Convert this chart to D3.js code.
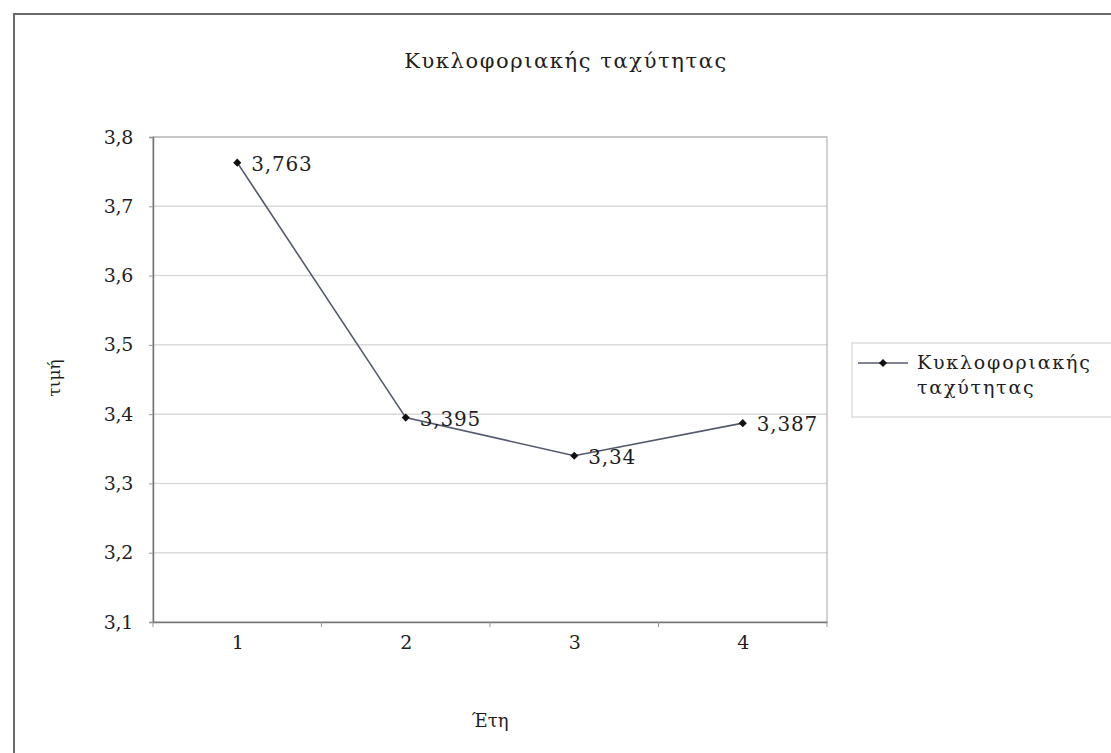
<!DOCTYPE html>
<html>
<head>
<meta charset="utf-8">
<script src="https://cdn.jsdelivr.net/npm/d3@7"></script>
<style>
  body { margin: 0; background: #fff; }
</style>
</head>
<body>
<div id="vizArea"></div>
<script>
var w = 1111
var h = 753
var serif = "'DejaVu Serif', 'Liberation Serif', serif"

// DATA ********************************
var years = [1, 2, 3, 4]
var speedValues = [3.763, 3.395, 3.34, 3.387]
var yTicks = [3.1, 3.2, 3.3, 3.4, 3.5, 3.6, 3.7, 3.8]
var chartTitle = "Κυκλοφοριακής ταχύτητας"
var seriesName = ["Κυκλοφοριακής", "ταχύτητας"]
var xTitle = "Έτη"
var yTitle = "τιμή"

// greek style numbers use comma as decimal mark
var gr = d3.formatLocale({decimal: ",", thousands: ".", grouping: [3], currency: ["", "€"]})

var svg = d3.select("#vizArea").append("svg")
    .attr("width", w)
    .attr("height", h)
    .style("font-family", serif)

// small helper so every label gets the same scanned-Times look
function txt(sel, size, spacing) {
    return sel.style("font-family", serif)
        .style("font-size", size + "px")
        .style("letter-spacing", spacing + "px")
        .attr("fill", "#1e1e1e")
}

// outer chart frame (runs off the page on right & bottom)
svg.append("rect")
    .attr("x", 14).attr("y", 14)
    .attr("width", w).attr("height", h)
    .attr("fill", "#fff")
    .attr("stroke", "#6a6a6a")
    .attr("stroke-width", 2)

var plot = {left: 153, top: 137, right: 827, bottom: 622}

var x = d3.scalePoint()
    .domain(years)
    .range([plot.left, plot.right])
    .padding(0.5)

var y = d3.scaleLinear()
    .domain([3.1, 3.8])
    .range([plot.bottom, plot.top])

// gridlines
svg.append("g")
    .selectAll("line")
    .data(yTicks.slice(1))
    .enter().append("line")
    .attr("x1", plot.left).attr("x2", plot.right)
    .attr("y1", function(d){ return y(d) })
    .attr("y2", function(d){ return y(d) })
    .attr("stroke", "#dadada")
    .attr("stroke-width", 1.5)

// plot area border
svg.append("rect")
    .attr("x", plot.left).attr("y", plot.top)
    .attr("width", plot.right - plot.left)
    .attr("height", plot.bottom - plot.top)
    .attr("fill", "none")
    .attr("stroke", "#b4b4b4")
    .attr("stroke-width", 1.2)

// y axis
var yAxis = d3.axisLeft(y)
    .tickValues(yTicks)
    .tickSize(4)
    .tickPadding(16)
    .tickFormat(gr.format(".1f"))
var yg = svg.append("g")
    .attr("transform", "translate(" + plot.left + ",0)")
    .call(yAxis)
yg.select(".domain").attr("stroke", "#777").attr("stroke-width", 1.5)
yg.selectAll(".tick line").attr("stroke", "#999")
txt(yg.selectAll("text"), 19, -0.3)

// x axis: ticks sit between categories
var xAxis = d3.axisBottom(x)
    .tickSize(0)
    .tickPadding(14)
var xg = svg.append("g")
    .attr("transform", "translate(0," + plot.bottom + ")")
    .call(xAxis)
xg.select(".domain").attr("stroke", "#777").attr("stroke-width", 1.5)
txt(xg.selectAll("text"), 19, 0)

var step = x.step()
xg.selectAll(".sep")
    .data(d3.range(years.length + 1))
    .enter().append("line")
    .attr("x1", function(i){ return plot.left + i * step })
    .attr("x2", function(i){ return plot.left + i * step })
    .attr("y1", 0).attr("y2", 5)
    .attr("stroke", "#999")

// series line
var pts = years.map(function(d, i){ return {year: d, value: speedValues[i]} })
var line = d3.line()
    .x(function(d){ return x(d.year) })
    .y(function(d){ return y(d.value) })

svg.append("path")
    .datum(pts)
    .attr("d", line)
    .attr("fill", "none")
    .attr("stroke", "#545a6e")
    .attr("stroke-width", 1.6)

// diamond markers
var diamond = d3.symbol().type(d3.symbolDiamond2).size(42)
svg.selectAll(".pt")
    .data(pts)
    .enter().append("path")
    .attr("d", diamond)
    .attr("transform", function(d){ return "translate(" + x(d.year) + "," + y(d.value) + ")" })
    .attr("fill", "#111")

// data labels
txt(svg.selectAll(".lbl")
    .data(pts)
    .enter().append("text")
    .attr("x", function(d){ return x(d.year) + 14 })
    .attr("y", function(d){ return y(d.value) + 8 })
    .text(function(d){ return gr.format("")(d.value) }), 20, 0.8)

// titles
txt(svg.append("text")
    .attr("x", 566).attr("y", 68)
    .attr("text-anchor", "middle")
    .text(chartTitle), 21, 1.6)

txt(svg.append("text")
    .attr("x", 490).attr("y", 727)
    .attr("text-anchor", "middle")
    .text(xTitle), 18, 0)

txt(svg.append("text")
    .attr("transform", "translate(60,378) rotate(-90)")
    .attr("text-anchor", "middle")
    .text(yTitle), 17, 0)

// legend
var lg = svg.append("g").attr("transform", "translate(852,343)")
lg.append("rect")
    .attr("width", 270).attr("height", 74)
    .attr("fill", "#fff")
    .attr("stroke", "#cccccc")
lg.append("line")
    .attr("x1", 6).attr("x2", 56)
    .attr("y1", 20).attr("y2", 20)
    .attr("stroke", "#545a6e").attr("stroke-width", 1.6)
lg.append("path")
    .attr("d", diamond)
    .attr("transform", "translate(31,20)")
    .attr("fill", "#111")
txt(lg.selectAll(".lt")
    .data(seriesName)
    .enter().append("text")
    .attr("x", 65)
    .attr("y", function(d, i){ return 26 + i * 25 })
    .text(function(d){ return d }), 19, 1.8)
</script>
</body>
</html>
